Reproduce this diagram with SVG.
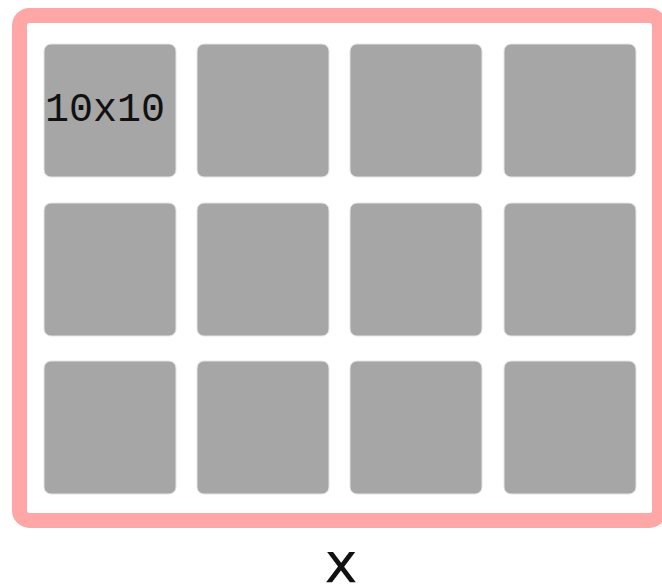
<svg xmlns="http://www.w3.org/2000/svg" width="662" height="588" viewBox="0 0 662 588">
<style>
.frame{fill:#fff;stroke:#ffa6a6;stroke-width:15}
.tile{fill:#a6a6a6;stroke:#e4e4e4;stroke-width:1}
.lbl{font-family:"Liberation Mono",monospace;font-size:40px;fill:#111}
.axis{font-family:"DejaVu Sans",sans-serif;font-size:56px;fill:#111;text-anchor:middle}
</style>
<rect width="662" height="588" fill="#fff"/>
<g id="frame"><rect class="frame" x="19.5" y="15.5" width="640" height="505" rx="10"/></g>
<g id="tiles">
<g id="t11"><rect class="tile" x="44" y="44" width="132" height="133" rx="7"/><text class="lbl" x="45" y="121">10x10</text></g>
<g id="t12"><rect class="tile" x="197" y="44" width="132" height="133" rx="7"/></g>
<g id="t13"><rect class="tile" x="350" y="44" width="132" height="133" rx="7"/></g>
<g id="t14"><rect class="tile" x="504" y="44" width="132" height="133" rx="7"/></g>
<g id="t21"><rect class="tile" x="44" y="203" width="132" height="133" rx="7"/></g>
<g id="t22"><rect class="tile" x="197" y="203" width="132" height="133" rx="7"/></g>
<g id="t23"><rect class="tile" x="350" y="203" width="132" height="133" rx="7"/></g>
<g id="t24"><rect class="tile" x="504" y="203" width="132" height="133" rx="7"/></g>
<g id="t31"><rect class="tile" x="44" y="361" width="132" height="133" rx="7"/></g>
<g id="t32"><rect class="tile" x="197" y="361" width="132" height="133" rx="7"/></g>
<g id="t33"><rect class="tile" x="350" y="361" width="132" height="133" rx="7"/></g>
<g id="t34"><rect class="tile" x="504" y="361" width="132" height="133" rx="7"/></g>
</g>
<g id="connectors"></g>
<g id="axis"><text class="axis" x="341" y="582">x</text></g>
</svg>
